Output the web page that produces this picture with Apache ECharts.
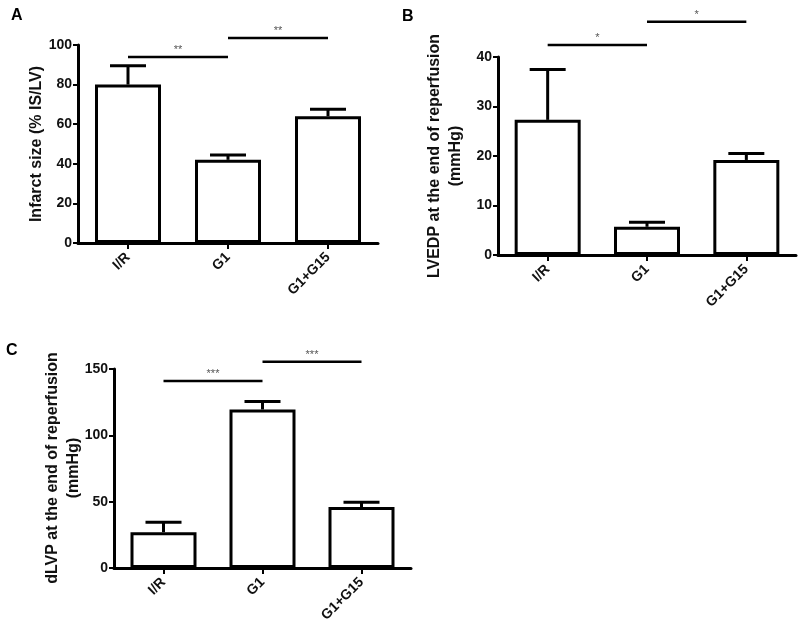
<!DOCTYPE html>
<html>
<head>
<meta charset="utf-8">
<script src="https://cdn.jsdelivr.net/npm/echarts@6/dist/echarts.min.js"></script>
<style>html,body{margin:0;padding:0;background:#fff;}#c{width:800px;height:629px;}</style>
</head>
<body>
<div id="c"></div>
<script>
// ---- data ----
const categories = ['I/R', 'G1', 'G1+G15'];

const infarctMean = [80, 42, 64];
const infarctErr  = [9.5, 2.5, 3.5];
const infarctTicks = { min: 0, max: 100, interval: 20 };
const infarctSig = [[0, 1, 94], [1, 2, 103.5]];
const infarctSigLabels = ['**', '**'];

const lvedpMean = [27.3, 5.7, 19.2];
const lvedpErr  = [10.2, 0.9, 1.3];
const lvedpTicks = { min: 0, max: 40, interval: 10 };
const lvedpSig = [[0, 1, 42.4], [1, 2, 47.1]];
const lvedpSigLabels = ['*', '*'];

const dlvpMean = [27, 119.5, 46];
const dlvpErr  = [7.5, 6, 3.5];
const dlvpTicks = { min: 0, max: 150, interval: 50 };
const dlvpSig = [[0, 1, 141], [1, 2, 155.4]];
const dlvpSigLabels = ['***', '***'];

const panelTitles = ['Infarct size (% IS/LV)', 'LVEDP at the end of reperfusion\n(mmHg)', 'dLVP at the end of reperfusion\n(mmHg)'];
const panelLetters = ['A', 'B', 'C'];

// ---- styling ----
const FONT = 'Liberation Sans, Arial, sans-serif';
const grids = [
  { left: 78, top: 45, width: 300, height: 198 },
  { left: 498, top: 57, width: 298, height: 198 },
  { left: 114, top: 369, width: 297, height: 199 }
];
const titlePos = [[37, 144], [445, 156], [63, 468]];
const letterPos = [[11, 8], [402, 9], [6, 343]];

const panels = [
  { mean: infarctMean, err: infarctErr, ticks: infarctTicks, sig: infarctSig, sigLabels: infarctSigLabels },
  { mean: lvedpMean, err: lvedpErr, ticks: lvedpTicks, sig: lvedpSig, sigLabels: lvedpSigLabels },
  { mean: dlvpMean, err: dlvpErr, ticks: dlvpTicks, sig: dlvpSig, sigLabels: dlvpSigLabels }
];

const xAxes = [], yAxes = [], series = [], graphics = [];
panels.forEach((p, k) => {
  xAxes.push({
    type: 'category', gridIndex: k, data: categories,
    axisLine: { show: true, lineStyle: { color: '#000', width: 3 } },
    axisTick: { show: true, alignWithLabel: true, length: 6, lineStyle: { color: '#000', width: 2 } },
    axisLabel: { rotate: 45, fontSize: 14, fontWeight: 'bold', fontFamily: FONT, color: '#111', margin: 12 },
    splitLine: { show: false }
  });
  yAxes.push({
    type: 'value', gridIndex: k, min: p.ticks.min, max: p.ticks.max, interval: p.ticks.interval,
    axisLine: { show: true, lineStyle: { color: '#000', width: 3 } },
    axisTick: { show: true, length: 5, lineStyle: { color: '#000', width: 2 } },
    axisLabel: { fontSize: 14, fontWeight: 'bold', fontFamily: FONT, color: '#111', margin: 6 },
    splitLine: { show: false }
  });
  graphics.push({
    type: 'text', x: titlePos[k][0], y: titlePos[k][1], rotation: Math.PI / 2,
    style: { text: panelTitles[k], align: 'center', verticalAlign: 'middle', fontSize: 16, fontWeight: 'bold', fontFamily: FONT, fill: '#111', lineHeight: 21 }
  });
  graphics.push({
    type: 'text', x: letterPos[k][0], y: letterPos[k][1],
    style: { text: panelLetters[k], fontSize: 16, fontWeight: 'bold', fontFamily: FONT, fill: '#000' }
  });
  series.push({
    type: 'bar', xAxisIndex: k, yAxisIndex: k, data: p.mean, barWidth: 66,
    itemStyle: { color: '#fff', borderColor: '#000', borderWidth: 3 },
    silent: true, animation: false
  });
  series.push({
    type: 'custom', xAxisIndex: k, yAxisIndex: k, animation: false, silent: true, z: 3,
    data: p.mean.map((m, i) => [i, m, p.err[i]]),
    encode: { x: 0, y: 1 },
    renderItem: function (params, api) {
      const i = api.value(0), m = api.value(1), e = api.value(2);
      const base = api.coord([i, m]);
      const top = api.coord([i, m + e]);
      return {
        type: 'group', children: [
          { type: 'line', shape: { x1: base[0], y1: base[1], x2: top[0], y2: top[1] }, style: { stroke: '#000', lineWidth: 3 } },
          { type: 'line', shape: { x1: top[0] - 18, y1: top[1], x2: top[0] + 18, y2: top[1] }, style: { stroke: '#000', lineWidth: 3 } }
        ]
      };
    }
  });
  series.push({
    type: 'custom', xAxisIndex: k, yAxisIndex: k, animation: false, silent: true, clip: false,
    data: p.sig,
    encode: { x: 0, y: 2 },
    renderItem: function (params, api) {
      const a = api.coord([api.value(0), api.value(2)]);
      const b = api.coord([api.value(1), api.value(2)]);
      return {
        type: 'group', children: [
          { type: 'line', shape: { x1: a[0], y1: a[1], x2: b[0], y2: b[1] }, style: { stroke: '#000', lineWidth: 2.5 } },
          { type: 'text', style: { text: p.sigLabels[params.dataIndex], x: (a[0] + b[0]) / 2, y: a[1] - 7, align: 'center', verticalAlign: 'middle', fontSize: 11, fontFamily: FONT, fill: '#555' } }
        ]
      };
    }
  });
});

const chart = echarts.init(document.getElementById('c'), null, { renderer: 'canvas' });
chart.setOption({
  animation: false,
  backgroundColor: '#fff',
  grid: grids,
  xAxis: xAxes,
  yAxis: yAxes,
  series: series,
  graphic: graphics
});
</script>
</body>
</html>
